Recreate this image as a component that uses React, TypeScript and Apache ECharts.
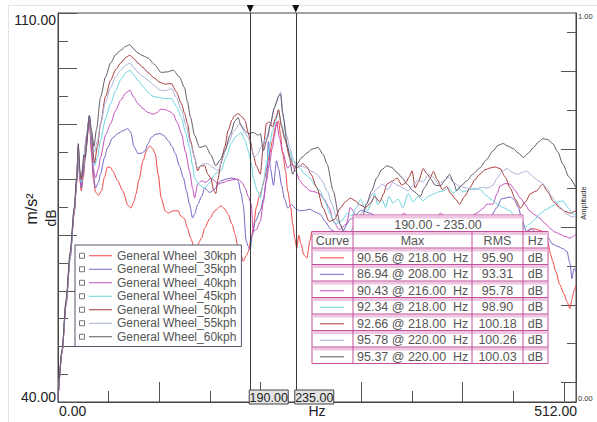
import React, { useEffect, useRef } from "react";
import * as echarts from "echarts";

const WIDTH = 597;
const HEIGHT = 422;
const FONT = '"Liberation Sans", Arial, sans-serif';

const seriesNames = [
  "General Wheel_30kph",
  "General Wheel_35kph",
  "General Wheel_40kph",
  "General Wheel_45kph",
  "General Wheel_50kph",
  "General Wheel_55kph",
  "General Wheel_60kph",
];
const seriesColors = ["#f04646", "#7464c6", "#c250b6", "#6ad4e0", "#a63a3a", "#a6b2d6", "#66566a"];

const wheel30kph: [number, number][] = [
  [0, 40.5], [4, 49], [8, 57.5], [12, 66], [16, 74], [18.5, 79.5], [20, 85], [21.5, 80], [23, 78], [25, 80.5], [28, 86], [31, 90.8],
  [33, 85], [35, 80], [37, 77.8], [40, 77.2], [43, 78], [46, 80.5], [49, 82.3], [52, 82.2], [54, 81.6], [59, 79.8], [64, 78],
  [69, 75.4], [72, 74.9], [75, 76], [77, 77.4], [80, 80], [84, 83.4], [88, 85.5], [91, 86.1], [94, 85.5], [96, 84.7], [99, 81],
  [102, 76.7], [106, 74.4], [109, 74], [114, 74.4], [119, 74.4], [121, 73.5], [125, 73], [128, 71.3], [131, 69.5], [135, 67.7],
  [138, 68.3], [142, 69.5], [145, 71.3], [150, 73], [155, 74.4], [161, 75.3], [165, 74.7], [168, 73.8], [172, 72], [175, 70.2],
  [178, 67.7], [181, 66.5], [183, 65.3], [186, 66.3], [188, 67], [191, 69.5], [193, 71.3], [196, 75], [199, 77], [201, 78],
  [204, 80], [206, 81.6], [209, 84.5], [212, 87], [215, 89.5], [218, 90.6], [220, 88], [222, 84.7], [225, 81.5], [227, 78],
  [230, 75], [232, 72], [234, 69.5], [236, 67.7], [238, 70], [240, 68.5], [243, 66.5], [246, 65.9], [249, 69], [251, 70.7],
  [253, 64.5], [256, 62], [260, 63], [270, 64], [280, 65], [290, 64], [300, 66], [310, 65], [320, 66.5], [330, 65.5], [340, 67],
  [350, 66], [360, 67.5], [370, 66.5], [380, 67], [390, 66], [400, 67], [410, 66.5], [420, 67.5], [430, 68], [440, 69.5],
  [450, 70], [460, 70.5], [470, 71.2], [478, 70.8], [484, 68.9], [487, 66.5], [489, 65.3], [492, 63.5], [496, 61.1], [500, 59.5],
  [503, 58.1], [506, 56.8], [508, 58.5], [510, 60], [512, 61],
];

const wheel35kph: [number, number][] = [
  [0, 40.5], [4, 49], [8, 57.5], [12, 66], [16, 74], [18.5, 79.5], [20, 85], [21.5, 80.5], [23, 78.5], [25, 81], [28, 86.5], [31, 91],
  [33, 86], [35, 81], [37, 78.5], [40, 79.5], [42, 81], [46, 84], [49, 85.8], [54, 87.5], [59, 88.3], [64, 88.8], [69, 89.2],
  [72, 88.5], [75, 86], [79, 84.7], [83, 84.8], [86, 85.2], [89, 86.5], [92, 87.6], [97, 88.2], [101, 88.3], [105, 87.9],
  [109, 87], [113, 85.9], [116, 84.7], [120, 82.5], [124, 80.3], [127, 78], [130, 75.6], [133, 73.1], [135, 73.8], [138, 75.5],
  [142, 77], [145, 78.5], [150, 77.7], [155, 78.3], [159, 79.5], [161, 79.8], [166, 80.1], [171, 80.3], [175, 80.2], [178, 79.8],
  [181, 77.5], [183, 75.6], [186, 69], [188, 68], [190, 67.4], [192, 70], [195, 72.5], [200, 74.4], [203, 76.5], [206, 80],
  [208, 86.9], [210, 82], [213, 79], [216, 83.4], [218, 82], [221, 79], [224, 76.5], [227, 74.9], [231, 75.5], [235, 74.8],
  [239, 74.4], [244, 74.5], [249, 74.7], [254, 74.2], [259, 73.8], [264, 72.5], [270, 71], [278, 70], [290, 73], [300, 74.5],
  [308, 74], [318, 73], [330, 72], [340, 71.5], [350, 72.5], [360, 72], [372, 73], [385, 72.5], [398, 71.8], [410, 72.3],
  [420, 72.8], [428, 73.5], [434, 75], [438, 76.5], [442, 76.7], [447, 76.9], [451, 76.4], [455, 75], [459, 72.5], [463, 70.7],
  [468, 71.2], [473, 70.4], [479, 70.7], [484, 69.6], [489, 68.4], [494, 68], [499, 67.6], [503, 67.1], [506, 65], [508, 62.2],
  [510, 64], [512, 63.5],
];

const wheel40kph: [number, number][] = [
  [0, 40.5], [4, 49], [8, 58], [12, 66], [16, 74], [18.5, 80], [20, 85.5], [21.5, 81], [23, 79], [25, 81.5], [28, 87], [31, 91.2],
  [33, 86.5], [35, 82], [37, 80.3], [40, 82], [42, 84], [47, 88], [52, 90.1], [57, 92.5], [62, 94.3], [67, 95.6], [71, 96.1],
  [75, 94.8], [79, 93.7], [84, 92.8], [89, 92.1], [94, 91.8], [97, 92], [102, 92.7], [106, 92.6], [110, 92.3], [114, 91.8],
  [118, 90.2], [122, 88.3], [126, 85], [130, 81.6], [133, 78.5], [135, 76.7], [138, 79.2], [142, 79.8], [146, 79.5], [151, 80.3],
  [155, 79.8], [158, 79.2], [163, 79.5], [168, 79.8], [173, 80], [178, 80.1], [182, 79.5], [185, 78.5], [188, 77], [191, 75.6],
  [193, 70.7], [196, 71], [200, 72.5], [203, 76], [206, 79.8], [209, 83], [212, 85.8], [214, 88], [216, 90.4], [219, 87.5],
  [222, 85], [227, 82.1], [231, 82.8], [235, 81.5], [239, 79.8], [244, 78.8], [249, 78], [254, 77.8], [259, 77.4], [263, 76.5],
  [268, 75], [272, 72.6], [278, 71], [285, 72], [289, 75], [295, 73.5], [300, 71], [306, 72.5], [312, 71], [318, 73], [324, 72],
  [330, 73.5], [336, 72.5], [342, 74], [348, 72.8], [354, 73.5], [360, 72], [366, 73], [372, 72.5], [378, 74], [384, 73],
  [390, 72.2], [396, 73], [402, 72.5], [408, 73.4], [414, 74], [420, 74.8], [424, 75.6], [430, 75.6], [434, 77.5], [437, 78.9],
  [442, 79.3], [447, 79.2], [452, 78], [457, 76.7], [462, 75.5], [466, 74.4], [471, 73.7], [476, 73.1], [481, 72.2], [486, 71.3],
  [491, 70.6], [496, 70.2], [501, 69.8], [506, 69.5], [512, 70.2],
];

const wheel45kph: [number, number][] = [
  [0, 40.5], [4, 49], [8, 58], [12, 66], [16, 74.5], [18.5, 80], [20, 85.5], [21.5, 81], [23, 79.5], [25, 82], [28, 87.5], [31, 91.3],
  [33, 87.5], [36, 82.5], [39, 84], [42, 87], [47, 91], [52, 93.7], [57, 96], [62, 98], [67, 99.3], [71, 99.7], [75, 98.8],
  [79, 97.9], [84, 96.8], [89, 95.7], [94, 95], [99, 94.8], [106, 94.6], [112, 94.6], [117, 93.2], [122, 91.2], [126, 88.5],
  [130, 85.8], [133, 82.5], [135, 80.3], [140, 79], [145, 78.5], [150, 79.5], [155, 81], [161, 81.6], [166, 84], [171, 86.5],
  [176, 87.8], [181, 88.5], [185, 87], [188, 85.2], [191, 83], [193, 80.3], [197, 78], [200, 76.7], [203, 79.5], [206, 82.8],
  [209, 86], [212, 88.8], [215, 90.5], [218, 92.3], [221, 90], [225, 87], [229, 85], [232, 83.4], [236, 82.6], [239, 82.1],
  [244, 81], [249, 80.3], [254, 79], [259, 78], [264, 76], [269, 73.8], [274, 72], [280, 72.5], [286, 74], [290, 73.5], [295, 75],
  [299, 76.5], [303, 75], [306, 74.4], [310, 76], [313, 77.5], [316, 75.5], [320, 76.5], [324, 75], [327, 77], [331, 75.8],
  [336, 76.5], [341, 75], [346, 77.5], [351, 76], [356, 77], [361, 76.2], [366, 77], [371, 77.4], [376, 77.8], [381, 78],
  [386, 78.5], [391, 77.6], [396, 78.5], [400, 77.8], [404, 78], [410, 78.4], [417, 78.3], [423, 77.2], [428, 76.5], [434, 75.6],
  [440, 75], [447, 74.4], [452, 73], [457, 72], [462, 71.5], [466, 72], [471, 72.8], [476, 73.8], [482, 74.6], [489, 75.3],
  [494, 76], [499, 76.2], [504, 75], [509, 73.8], [512, 73.5],
];

const wheel50kph: [number, number][] = [
  [0, 40.5], [4, 49], [8, 58], [12, 66.5], [16, 74.5], [18.5, 80], [20, 86], [21.5, 81.5], [23, 80], [25, 82.5], [28, 87.5], [31, 91.4],
  [33, 88], [36, 83], [39, 86], [42, 90], [47, 95], [52, 97.9], [57, 99.8], [62, 101], [67, 102], [71, 102.4], [75, 101.8],
  [79, 101], [84, 100.2], [89, 99.3], [95, 98.3], [101, 97.5], [106, 97.2], [112, 97.3], [117, 95.8], [122, 93.7], [125, 92],
  [128, 90.1], [131, 87], [135, 84], [138, 81.6], [141, 82.5], [145, 82.5], [148, 81], [151, 80.3], [154, 78], [156, 77.5],
  [158, 80], [161, 82.9], [165, 86], [168, 88.8], [172, 90.8], [175, 91.6], [178, 91.9], [182, 91.3], [185, 90.6], [188, 88.5],
  [190, 87], [193, 84.5], [196, 82.5], [200, 81], [203, 86], [206, 90.1], [209, 90.4], [212, 89.5], [215, 91], [218, 92.6],
  [221, 89.5], [224, 87.5], [229, 84], [233, 82.5], [236, 82.1], [239, 82.5], [242, 82.9], [246, 82.3], [250, 81], [256, 78.5],
  [262, 74.9], [268, 72.5], [273, 72.8], [279, 74.9], [284, 76], [289, 76.7], [294, 76.2], [298, 75.5], [304, 75], [309, 75.8],
  [313, 77], [318, 76], [322, 77.5], [325, 79.2], [330, 79.7], [335, 80.3], [340, 79], [344, 79.5], [347, 80.5], [350, 81.6],
  [353, 78.5], [356, 79.5], [361, 82], [365, 81], [368, 80.3], [371, 81.5], [375, 80], [380, 78.2], [384, 78.8], [388, 77.6],
  [393, 76.5], [397, 75.6], [402, 77], [407, 78.5], [412, 80], [417, 81], [422, 81.8], [427, 82.1], [432, 82.3], [437, 82],
  [442, 80.5], [447, 78.5], [452, 76.5], [457, 74.9], [462, 76], [467, 77.5], [473, 78], [479, 79.2], [484, 77.8], [490, 76],
  [496, 74.9], [501, 74.3], [506, 74], [512, 74.4],
];

const wheel55kph: [number, number][] = [
  [0, 40.5], [4, 49.2], [8, 58], [12, 66.5], [16, 74.5], [18.5, 80.5], [20, 86], [21.5, 81], [23, 81], [25, 83], [28, 88], [31, 91.5],
  [33, 88.5], [36, 85], [39, 87], [42, 90], [47, 94], [52, 96.6], [57, 98.5], [62, 99.7], [67, 100.6], [71, 101], [75, 100.2],
  [79, 99.3], [84, 98.6], [89, 97.9], [95, 97], [101, 96.1], [106, 96], [112, 96.4], [117, 94.8], [122, 92.5], [127, 89.5],
  [131, 86.5], [135, 84], [138, 82.1], [143, 82.8], [148, 82.9], [153, 82.2], [158, 81.6], [163, 84], [168, 86.5], [174, 88.8],
  [180, 90.1], [184, 88.6], [188, 87.6], [191, 85.8], [194, 84], [197, 84.5], [201, 86], [206, 87.6], [210, 90], [213, 92.5],
  [216, 94], [220, 95.8], [223, 91], [226, 88], [229, 85.8], [233, 83.5], [236, 82.8], [241, 82.4], [246, 82.1], [251, 81.5],
  [256, 81], [261, 79.8], [266, 78], [271, 75.5], [276, 72.6], [282, 71], [288, 70.5], [294, 72], [300, 74], [306, 76],
  [311, 77.5], [316, 78.5], [321, 79.2], [326, 78.2], [331, 79.5], [336, 79], [341, 78.5], [346, 78], [351, 79], [356, 80],
  [361, 79.6], [366, 81], [371, 80.4], [376, 79.2], [381, 79.8], [386, 80.5], [391, 79.5], [397, 78.8], [404, 78.5], [411, 78.2],
  [418, 78.6], [425, 78.5], [430, 79], [434, 80.3], [439, 81.5], [444, 82], [449, 81.3], [454, 81], [459, 81.3], [463, 81.6],
  [468, 80.8], [473, 80], [478, 79.5], [483, 78.5], [488, 77], [493, 75.8], [498, 74.8], [503, 73.8], [508, 73.3], [512, 73.5],
];

const wheel60kph: [number, number][] = [
  [0, 40.5], [4, 49.5], [8, 58.5], [12, 67], [16, 75], [18.5, 80.5], [20, 86.5], [22, 81], [23.5, 80.5], [25.5, 84.5], [27, 84],
  [31, 91.6], [33, 89], [35.5, 86], [38, 89], [42, 94.8], [47, 98.5], [52, 101], [57, 102.5], [62, 103.3], [67, 104], [71, 104.3],
  [75, 103.5], [79, 102.8], [84, 102.3], [89, 101.9], [95, 100.8], [102, 99.3], [108, 99.4], [114, 99.7], [120, 98.5], [125, 96.6],
  [128, 94], [131, 91.2], [135, 88], [140, 85.8], [146, 86.1], [151, 84.5], [156, 82.5], [160, 83.5], [165, 85.2], [170, 88],
  [175, 90.6], [178, 91.2], [181, 89.7], [185, 88.8], [188, 88.3], [193, 88.5], [198, 88], [200, 88.3], [203, 85.2], [207, 87.5],
  [210, 90], [214, 93], [218, 95], [220, 95.4], [222, 92], [227, 85.8], [232, 81], [236, 82.8], [241, 84], [246, 84.8],
  [251, 85.5], [257, 85.8], [262, 84.6], [266, 82.8], [272, 78], [279, 72], [285, 69], [292, 68], [298, 71], [305, 75.6],
  [310, 78], [315, 80.3], [320, 81.8], [325, 82.5], [330, 82.2], [335, 81.3], [340, 80.4], [345, 79.2], [351, 78], [358, 77],
  [362, 78.5], [368, 80.2], [373, 79], [378, 78.9], [383, 80], [387, 81], [391, 79.5], [394, 78], [399, 79], [404, 79.8],
  [410, 81], [417, 82.1], [423, 83.5], [430, 85.2], [435, 86.2], [440, 86.5], [445, 86], [450, 85.6], [455, 84.8], [460, 84],
  [465, 84.8], [470, 85.8], [475, 86.8], [479, 87.4], [484, 87.2], [489, 86.5], [494, 85], [499, 82.8], [505, 80.5], [512, 78.5],
];

const seriesData = [wheel30kph, wheel35kph, wheel40kph, wheel45kph, wheel50kph, wheel55kph, wheel60kph];

const cursorFreqs = [190, 235];
const maxLevels = [90.56, 86.94, 90.43, 92.34, 92.66, 95.78, 95.37];
const maxFreqs = [218, 208, 216, 218, 218, 220, 220];
const rmsLevels = [95.9, 93.31, 95.78, 98.9, 100.18, 100.26, 100.03];
const tableHeaders = ["Curve", "Max", "RMS", "Hz"];
const unitLabel = "dB";

const dbTickLabels = ["110.00", "40.00"];
const hzTickLabels = ["0.00", "512.00"];
const ampTickLabels = ["1.00", "0.00"];
const ampCategories = ["0.05", "0.15", "0.25", "0.35", "0.45", "0.55", "0.65", "0.75", "0.85", "0.95"];

const AXIS_COLOR = "#444";
const TABLE_BORDER = "#c2509c";
const TABLE_BAND = "#eec6e2";
const TEXT_GREY = "#555";

function txt(x: number, y: number, text: string, opts: any = {}) {
  return {
    type: "text",
    x,
    y,
    rotation: opts.rotation || 0,
    silent: true,
    z: 100,
    style: {
      text,
      fontSize: opts.fontSize || 12.5,
      fontFamily: FONT,
      fill: opts.fill || TEXT_GREY,
      align: opts.align || "center",
      verticalAlign: opts.verticalAlign || "middle",
    },
  };
}

function buildTable(): any[] {
  const els: any[] = [];
  const left = 312;
  const hdrLeft = 353;
  const c2 = 472;
  const c3 = 523;
  const right = 548;
  const top = 215;
  const rowH = 16.5;
  const bodyTop = top + rowH;
  const nRows = seriesNames.length + 1;
  const bodyBottom = bodyTop + nRows * rowH;
  const line = (x1: number, y1: number, x2: number, y2: number) => ({
    type: "line",
    silent: true,
    z: 100,
    shape: { x1, y1, x2, y2 },
    style: { stroke: TABLE_BORDER, lineWidth: 1 },
  });
  const band = (x: number, y: number, w: number) => ({
    type: "rect",
    silent: true,
    z: 100,
    shape: { x, y, width: w, height: 3 },
    style: { fill: TABLE_BAND },
  });
  els.push({ type: "rect", silent: true, z: 100, shape: { x: hdrLeft, y: top, width: c3 - hdrLeft, height: rowH }, style: { fill: "#fff", stroke: TABLE_BORDER, lineWidth: 1 } });
  els.push(band(hdrLeft + 0.5, top + 0.5, c3 - hdrLeft - 1));
  els.push(txt((hdrLeft + c3) / 2, top + rowH / 2 + 1.5, `${cursorFreqs[0].toFixed(2)} - ${cursorFreqs[1].toFixed(2)}`, { fontSize: 12.5 }));
  els.push({ type: "rect", silent: true, z: 100, shape: { x: left, y: bodyTop, width: right - left, height: nRows * rowH }, style: { fill: "#fff", stroke: TABLE_BORDER, lineWidth: 1 } });
  for (let r = 0; r < nRows; r++) {
    const y = bodyTop + r * rowH;
    els.push(band(left + 0.5, y + 0.5, right - left - 1));
    if (r > 0) els.push(line(left, y, right, y));
  }
  [hdrLeft, c2, c3].forEach((x) => els.push(line(x, bodyTop, x, bodyBottom)));
  const cy = (r: number) => bodyTop + r * rowH + 9.8;
  const colCenters = [(left + hdrLeft) / 2, (hdrLeft + c2) / 2, (c2 + c3) / 2, (c3 + right) / 2];
  tableHeaders.forEach((h, i) => els.push(txt(colCenters[i], cy(0), h)));
  seriesNames.forEach((_, i) => {
    const y = cy(i + 1);
    els.push({ type: "line", silent: true, z: 100, shape: { x1: left + 8, y1: y, x2: left + 32, y2: y }, style: { stroke: seriesColors[i], lineWidth: 1 } });
    els.push(txt(hdrLeft + 4, y, `${maxLevels[i].toFixed(2)} @ ${maxFreqs[i].toFixed(2)}  Hz`, { align: "left" }));
    els.push(txt(colCenters[2], y, rmsLevels[i].toFixed(2)));
    els.push(txt(colCenters[3], y, unitLabel));
  });
  return els;
}

export default function App() {
  const ref = useRef<HTMLDivElement>(null);

  useEffect(() => {
    if (!ref.current) return;
    const chart = echarts.init(ref.current, null, { renderer: "svg", width: WIDTH, height: HEIGHT });

    const tickStyle = { color: "#555", width: 1 };
    const option: any = {
      animation: false,
      backgroundColor: "#fff",
      grid: { left: 58, right: 21, top: 13, bottom: 20, show: true, borderColor: AXIS_COLOR, borderWidth: 1 },
      legend: {
        data: seriesNames,
        orient: "vertical",
        left: 75,
        top: 245,
        padding: [4, 5, 3, 14],
        itemGap: 0,
        itemWidth: 23,
        itemHeight: 1,
        icon: "rect",
        selectedMode: false,
        backgroundColor: "#fff",
        borderColor: "#55556e",
        borderWidth: 1,
        borderRadius: 0,
        z: 20,
        textStyle: { fontSize: 12, lineHeight: 13.5, fontFamily: FONT, color: TEXT_GREY },
      },
      xAxis: [
        {
          type: "value", min: 0, max: 512, interval: 100, position: "bottom",
          axisLine: { show: true, onZero: false, lineStyle: { color: AXIS_COLOR } },
          axisTick: { show: true, inside: true, length: 20, lineStyle: tickStyle },
          axisLabel: { show: false }, splitLine: { show: false },
        },
        {
          type: "value", min: 0, max: 512, interval: 50, position: "bottom",
          axisLine: { show: false, onZero: false },
          axisTick: { show: true, inside: true, length: 11, lineStyle: tickStyle },
          axisLabel: { show: false }, splitLine: { show: false },
        },
      ],
      yAxis: [
        {
          type: "value", min: 40, max: 110, interval: 10, position: "left",
          axisLine: { show: true, onZero: false, lineStyle: { color: AXIS_COLOR } },
          axisTick: { show: true, inside: true, length: 19, lineStyle: tickStyle },
          axisLabel: { show: false }, splitLine: { show: false },
        },
        {
          type: "value", min: 40, max: 110, interval: 5, position: "left",
          axisLine: { show: false, onZero: false },
          axisTick: { show: true, inside: true, length: 10, lineStyle: tickStyle },
          axisLabel: { show: false }, splitLine: { show: false },
        },
        {
          type: "category", data: ampCategories, position: "right", boundaryGap: true,
          axisLine: { show: true, onZero: false, lineStyle: { color: AXIS_COLOR } },
          axisTick: { show: true, inside: true, alignWithLabel: true, length: 9, lineStyle: tickStyle },
          axisLabel: { show: false }, splitLine: { show: false },
        },
        {
          type: "category", data: ampCategories, position: "right", boundaryGap: true,
          axisLine: { show: false, onZero: false },
          axisTick: { show: true, inside: true, alignWithLabel: true, interval: 1, length: 15, lineStyle: tickStyle },
          axisLabel: { show: false }, splitLine: { show: false },
        },
      ],
      series: seriesData.map((d, i) => ({
        name: seriesNames[i],
        type: "line",
        xAxisIndex: 0,
        yAxisIndex: 0,
        data: d,
        showSymbol: false,
        symbol: "none",
        smooth: 0.25,
        smoothMonotone: "x",
        silent: true,
        clip: true,
        lineStyle: { color: seriesColors[i], width: 1 },
        itemStyle: { color: seriesColors[i] },
        emphasis: { disabled: true },
        z: 2,
        markLine:
          i === seriesData.length - 1
            ? {
                silent: true,
                symbol: ["none", "none"],
                label: { show: false },
                lineStyle: { color: "#3a3a3a", width: 1, type: "solid" },
                emphasis: { disabled: true },
                data: cursorFreqs.map((f) => ({ xAxis: f })),
              }
            : undefined,
      })),
    };
    chart.setOption(option);

    const graphics: any[] = [];
    graphics.push({ type: "line", silent: true, z: 1, shape: { x1: 8, y1: 5.5, x2: WIDTH, y2: 5.5 }, style: { stroke: "#e4e4e4", lineWidth: 1 } });
    graphics.push({ type: "line", silent: true, z: 1, shape: { x1: 8.5, y1: 5, x2: 8.5, y2: HEIGHT }, style: { stroke: "#e4e4e4", lineWidth: 1 } });

    graphics.push(txt(56, 13, dbTickLabels[0], { align: "right", verticalAlign: "top", fontSize: 14, fill: "#222" }));
    graphics.push(txt(56, 404, dbTickLabels[1], { align: "right", verticalAlign: "bottom", fontSize: 14, fill: "#222" }));
    graphics.push(txt(59, 404, hzTickLabels[0], { align: "left", verticalAlign: "top", fontSize: 14, fill: "#222" }));
    graphics.push(txt(577, 404, hzTickLabels[1], { align: "right", verticalAlign: "top", fontSize: 14, fill: "#222" }));
    graphics.push(txt(317, 404, "Hz", { verticalAlign: "top", fontSize: 14, fill: "#222" }));
    graphics.push(txt(578, 12, ampTickLabels[0], { align: "left", verticalAlign: "top", fontSize: 7.5, fill: "#333" }));
    graphics.push(txt(578, 402, ampTickLabels[1], { align: "left", verticalAlign: "bottom", fontSize: 7.5, fill: "#333" }));
    graphics.push(txt(31, 209, "m/s²", { rotation: Math.PI / 2, fontSize: 16, fill: "#222" }));
    graphics.push(txt(51, 218, "dB", { rotation: Math.PI / 2, fontSize: 14, fill: "#222" }));
    graphics.push(txt(583, 203, "Amplitude", { rotation: Math.PI / 2, fontSize: 7.5, fill: "#333" }));

    cursorFreqs.forEach((f) => {
      const px = chart.convertToPixel({ xAxisIndex: 0 }, f) as number;
      graphics.push({ type: "polygon", silent: true, z: 100, shape: { points: [[px - 3.5, 5], [px + 3.5, 5], [px, 12.5]] }, style: { fill: "#111" } });
      graphics.push({ type: "rect", silent: true, z: 100, shape: { x: px - 1, y: 390, width: 39, height: 14 }, style: { fill: "#e4e4e4", stroke: "#444", lineWidth: 1 } });
      graphics.push(txt(px + 18.5, 397.5, f.toFixed(2), { fontSize: 12.5, fill: "#222" }));
    });

    seriesNames.forEach((_, i) => {
      const cy = 245 + 4 + 6.75 + i * 13.5;
      graphics.push({ type: "rect", silent: true, z: 100, shape: { x: 79.5, y: cy - 2.5, width: 5, height: 5 }, style: { fill: "#fff", stroke: "#777", lineWidth: 1 } });
    });

    graphics.push(...buildTable());

    chart.setOption({ graphic: graphics });

    return () => chart.dispose();
  }, []);

  return (
    <div
      ref={ref}
      style={{ position: "fixed", left: 0, top: 0, width: WIDTH, height: HEIGHT, background: "#fff" }}
    />
  );
}
